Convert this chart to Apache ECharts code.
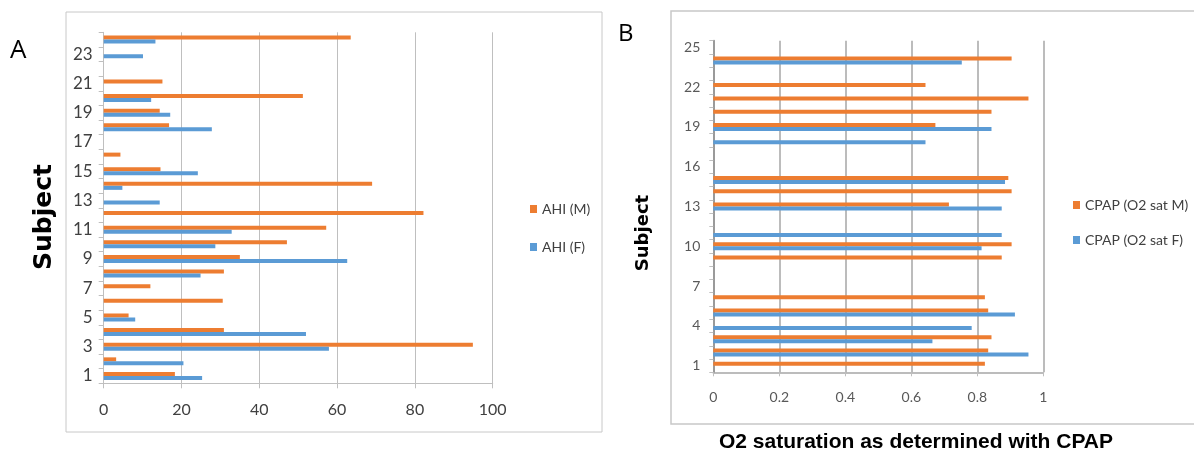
<!DOCTYPE html>
<html>
<head>
<meta charset="utf-8">
<script src="https://cdn.jsdelivr.net/npm/echarts@6/dist/echarts.min.js"></script>
<style>
  html, body { margin: 0; padding: 0; background: #fff; }
  #main { width: 1194px; height: 454px; }
</style>
</head>
<body>
<div id="main"></div>
<script>
// panel A: apnea-hypopnea index per subject
const subjectsA = Array.from({ length: 24 }, (_, i) => String(i + 1));
const ahiM = [18.3, 3.2, 94.9, 30.9, 6.4, 30.6, 12.0, 30.9, 35.0, 47.1, 57.2, 82.2,
  null, 69.0, 14.6, 4.3, null, 16.8, 14.4, 51.2, 15.1, null, null, 63.5];
const ahiF = [25.3, 20.5, 57.9, 52.0, 8.1, null, null, 24.9, 62.6, 28.7, 32.9, null,
  14.4, 4.8, 24.2, null, null, 27.8, 17.1, 12.2, null, null, 10.1, 13.3];

// panel B: O2 saturation with CPAP
const subjectsB = Array.from({ length: 25 }, (_, i) => String(i + 1));
const o2M = [0.823, 0.833, 0.843, null, 0.833, 0.823, null, null, 0.874, 0.904, null, null,
  0.714, 0.904, 0.894, null, null, null, 0.673, 0.843, 0.955, 0.643, null, 0.904, null];
const o2F = [null, 0.955, 0.664, 0.783, 0.914, null, null, null, null, 0.813, 0.874, null,
  0.874, null, 0.884, null, null, 0.643, 0.843, null, null, null, null, 0.753, null];

const ORANGE = '#ED7D31';
const BLUE = '#5B9BD5';
const labelFont = 'Lato, "Open Sans", sans-serif';
const titleFont = '"DejaVu Sans", Verdana, sans-serif';

const chart = echarts.init(document.getElementById('main'));

const option = {
  animation: false,
  grid: [
    { left: 103.7, top: 32.3, width: 389, height: 351 },
    { left: 713.3, top: 40.7, width: 330, height: 331.6 }
  ],
  legend: [
    {
      data: ['AHI (M)', 'AHI (F)'],
      orient: 'vertical',
      left: 525, top: 197,
      itemWidth: 7, itemHeight: 8, itemGap: 24,
      icon: 'rect',
      textStyle: { fontFamily: labelFont, fontSize: 14, color: '#404040' }
    },
    {
      data: ['CPAP (O2 sat M)', 'CPAP (O2 sat F)'],
      orient: 'vertical',
      left: 1068, top: 193,
      itemWidth: 7, itemHeight: 8, itemGap: 21,
      icon: 'rect',
      textStyle: { fontFamily: labelFont, fontSize: 14, color: '#404040' }
    }
  ],
  xAxis: [
    {
      gridIndex: 0, type: 'value', min: 0, max: 100, interval: 20,
      axisLine: { show: true, lineStyle: { color: '#bfbfbf' } },
      axisTick: { show: true, length: 5, lineStyle: { color: '#bfbfbf' } },
      axisLabel: { margin: 19, fontFamily: labelFont, fontSize: 16, color: '#404040' },
      splitLine: { show: true, lineStyle: { color: '#bfbfbf' } }
    },
    {
      gridIndex: 1, type: 'value', min: 0, max: 1, interval: 0.2,
      axisLine: { show: true, lineStyle: { color: '#a6a6a6', width: 1.5 } },
      axisTick: { show: true, length: 4, lineStyle: { color: '#bfbfbf' } },
      axisLabel: { margin: 18, fontFamily: labelFont, fontSize: 14, color: '#595959' },
      splitLine: { show: true, lineStyle: { color: '#a6a6a6', width: 1.5 } }
    }
  ],
  yAxis: [
    {
      gridIndex: 0, type: 'category', data: subjectsA,
      axisLine: { show: true, lineStyle: { color: '#bfbfbf' } },
      axisTick: { show: true, interval: 0, length: 5, lineStyle: { color: '#bfbfbf' } },
      axisLabel: { interval: 1, margin: 11, fontFamily: labelFont, fontSize: 17, color: '#404040' }
    },
    {
      gridIndex: 1, type: 'category', data: subjectsB,
      axisLine: { show: true, lineStyle: { color: '#9a9a9a', width: 2 } },
      axisTick: { show: true, interval: 0, length: 4, lineStyle: { color: '#bfbfbf' } },
      axisLabel: { interval: 2, margin: 13, fontFamily: labelFont, fontSize: 14, color: '#595959' }
    }
  ],
  series: [
    {
      name: 'AHI (M)', type: 'bar', xAxisIndex: 0, yAxisIndex: 0,
      data: ahiM, barWidth: 4, barGap: '0%', itemStyle: { color: ORANGE }
    },
    {
      name: 'AHI (F)', type: 'bar', xAxisIndex: 0, yAxisIndex: 0,
      data: ahiF, barWidth: 4, barGap: '0%', itemStyle: { color: BLUE }
    },
    {
      name: 'CPAP (O2 sat M)', type: 'bar', xAxisIndex: 1, yAxisIndex: 1,
      data: o2M, barWidth: 4, barGap: '0%', itemStyle: { color: ORANGE }
    },
    {
      name: 'CPAP (O2 sat F)', type: 'bar', xAxisIndex: 1, yAxisIndex: 1,
      data: o2F, barWidth: 4, barGap: '0%', itemStyle: { color: BLUE }
    }
  ],
  graphic: [
    {
      type: 'rect', silent: true,
      shape: { x: 66, y: 12, width: 536, height: 420 },
      style: { fill: 'none', stroke: '#c8c8c8', lineWidth: 1 }
    },
    {
      type: 'rect', silent: true,
      shape: { x: 671, y: 11, width: 540, height: 413 },
      style: { fill: 'none', stroke: '#c8c8c8', lineWidth: 1.5 }
    },
    {
      type: 'text', left: 10, top: 38,
      style: { text: 'A', font: '26px "Open Sans", sans-serif', fill: '#000' }
    },
    {
      type: 'text', left: 618, top: 22,
      style: { text: 'B', font: '24px "Open Sans", sans-serif', fill: '#000' }
    },
    {
      type: 'text', x: 44, y: 217, rotation: Math.PI / 2,
      style: {
        text: 'Subject', font: 'bold 25px ' + titleFont,
        fill: '#000', align: 'center', verticalAlign: 'middle'
      }
    },
    {
      type: 'text', x: 643, y: 233, rotation: Math.PI / 2,
      style: {
        text: 'Subject', font: 'bold 18px ' + titleFont,
        fill: '#000', align: 'center', verticalAlign: 'middle'
      }
    },
    {
      type: 'text', x: 916, y: 442,
      style: {
        text: 'O2 saturation as determined with CPAP',
        font: 'bold 21px "Liberation Sans", Arial, sans-serif',
        fill: '#000', align: 'center', verticalAlign: 'middle'
      }
    }
  ]
};

chart.setOption(option);
window.addEventListener('resize', () => chart.resize());
</script>
</body>
</html>
